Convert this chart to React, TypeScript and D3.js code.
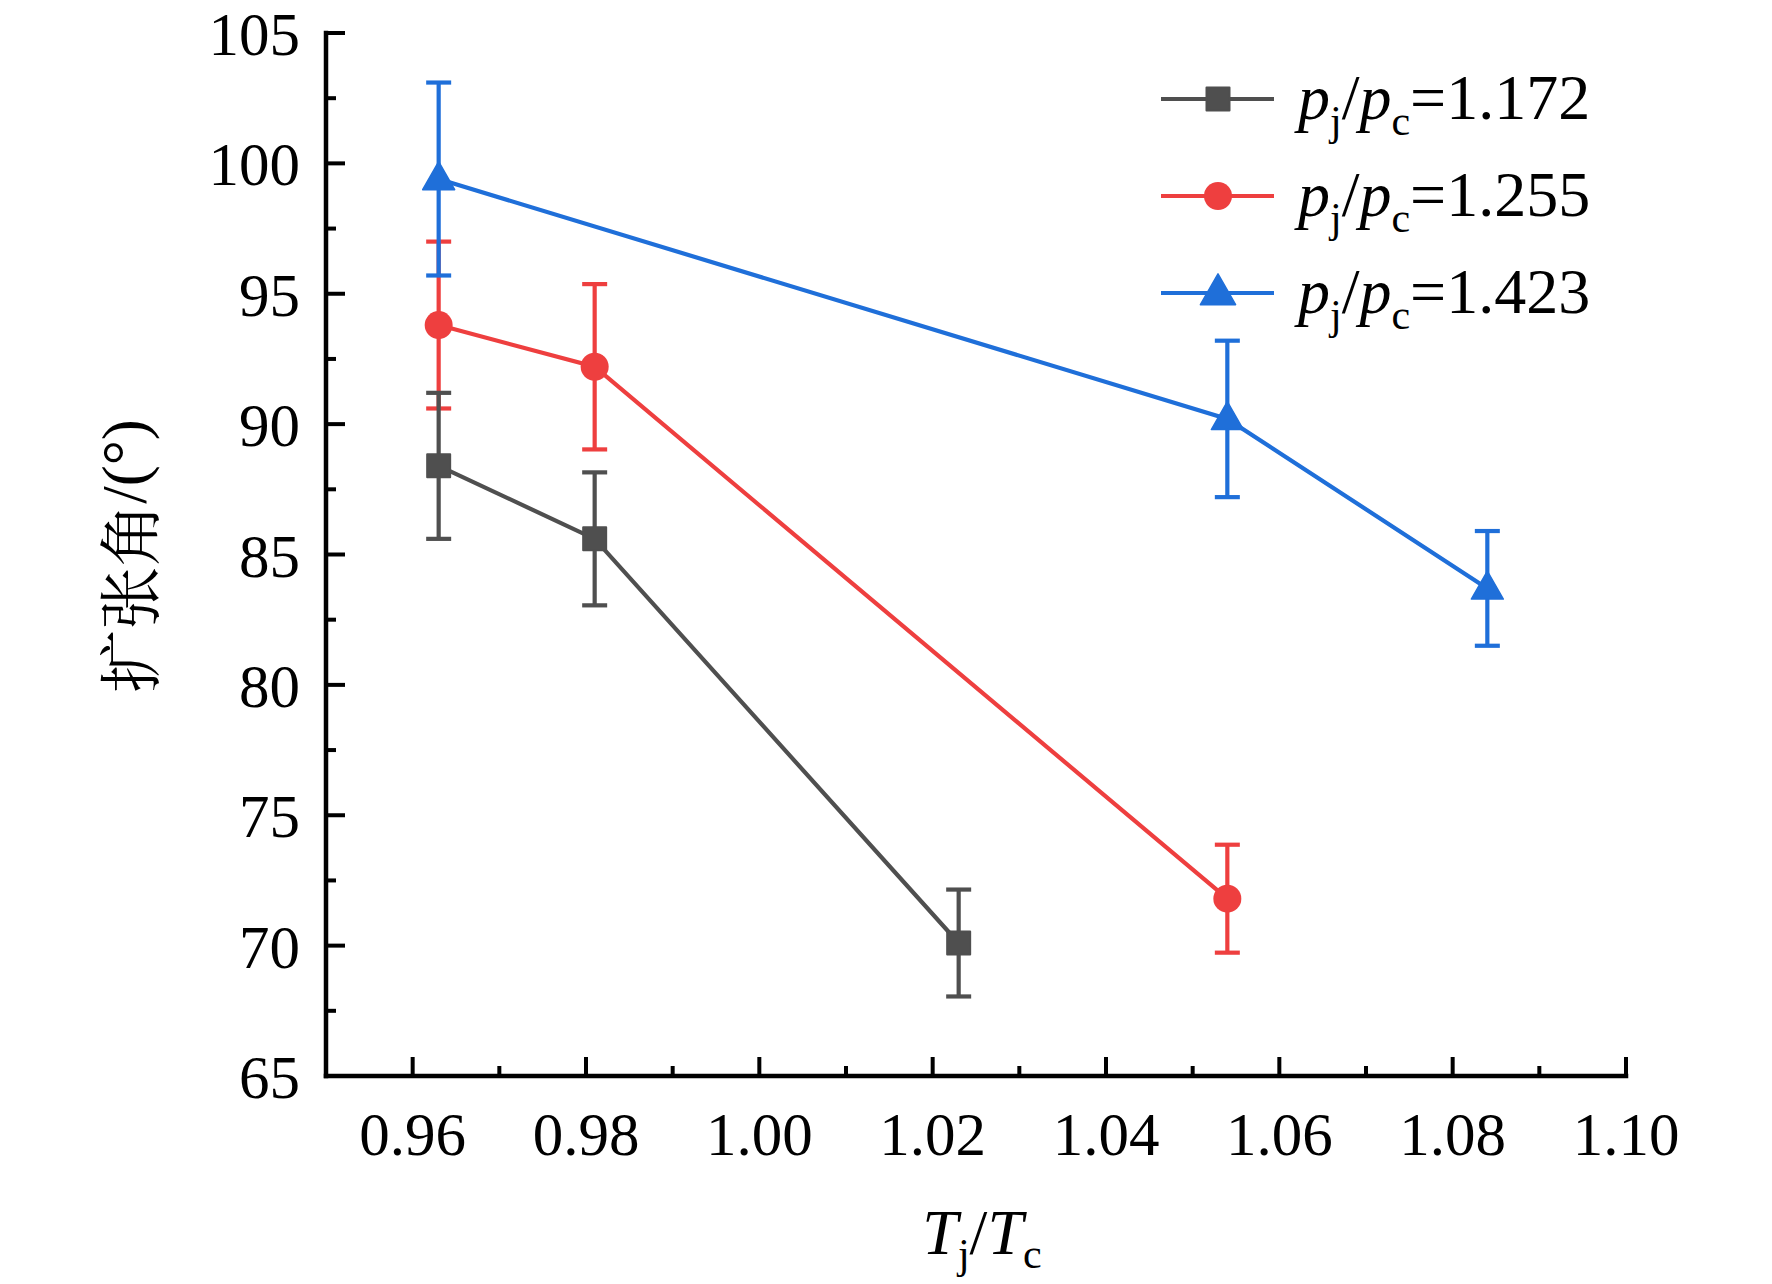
import React from "react";
import * as d3 from "d3";

const xTicks = [0.96, 0.98, 1.0, 1.02, 1.04, 1.06, 1.08, 1.1];
const xMinor = [0.97, 0.99, 1.01, 1.03, 1.05, 1.07, 1.09];
const yTicks = [65, 70, 75, 80, 85, 90, 95, 100, 105];
const yMinor = [67.5, 72.5, 77.5, 82.5, 87.5, 92.5, 97.5, 102.5];

const xBlack = [0.963, 0.981, 1.023];
const yBlack = [88.4, 85.6, 70.1];
const eBlack = [2.8, 2.55, 2.05];

const xRed = [0.963, 0.981, 1.054];
const yRed = [93.8, 92.2, 71.8];
const eRed = [3.2, 3.17, 2.07];

const xBlue = [0.963, 1.054, 1.084];
const yBlue = [99.4, 90.2, 83.7];
const eBlue = [3.7, 3.0, 2.2];

const legendValues = ["1.172", "1.255", "1.423"];

const W = 1772;
const H = 1284;
const SERIF = "'Times New Roman', 'Liberation Serif', Tinos, serif";
const CJK = "'Noto Serif CJK SC', 'Noto Sans CJK SC', sans-serif";

type Series = { xs: number[]; ys: number[]; es: number[]; color: string; shape: string };

const series: Series[] = [
  { xs: xBlack, ys: yBlack, es: eBlack, color: "#4f4f4f", shape: "square" },
  { xs: xRed, ys: yRed, es: eRed, color: "#ee3f3f", shape: "circle" },
  { xs: xBlue, ys: yBlue, es: eBlue, color: "#1f6fd9", shape: "triangle" },
];
const drawOrder = [1, 0, 2];

function Marker({ shape, cx, cy, color, scale = 1 }: { shape: string; cx: number; cy: number; color: string; scale?: number }) {
  if (shape === "square") {
    const s = 23 * scale;
    return <rect x={cx - s / 2} y={cy - s / 2} width={s} height={s} fill={color} stroke={color} strokeWidth={2} strokeLinejoin="round" />;
  }
  if (shape === "circle") {
    return <circle cx={cx} cy={cy} r={14 * scale} fill={color} />;
  }
  const w = 32 * scale;
  const h = 28 * scale;
  const p = d3.path();
  p.moveTo(cx, cy - h * 0.62);
  p.lineTo(cx + w / 2, cy + h * 0.38);
  p.lineTo(cx - w / 2, cy + h * 0.38);
  p.closePath();
  return <path d={p.toString()} fill={color} stroke={color} strokeWidth={1.5} strokeLinejoin="round" />;
}

export default function App() {
  const x = d3.scaleLinear().domain([0.95, 1.1]).range([326, 1626]);
  const y = d3.scaleLinear().domain([65, 105]).range([1076, 33]);

  const x0 = x(0.95);
  const y0 = y(65);
  const capW = 25;
  const lw = 4.2;

  return (
    <svg width={W} height={H} style={{ position: "absolute", left: 0, top: 0, background: "#fff" }}>
      <rect width={W} height={H} fill="#fff" />
      {drawOrder.map((si) => {
        const s = series[si];
        const pts: [number, number][] = s.xs.map((v, i) => [x(v), y(s.ys[i])]);
        const path = d3.line()(pts) || "";
        return (
          <g key={si}>
            {s.xs.map((v, i) => {
              const cx = x(v);
              const t = y(s.ys[i] + s.es[i]);
              const b = y(s.ys[i] - s.es[i]);
              return (
                <g key={i} stroke={s.color} strokeWidth={lw}>
                  <line x1={cx} x2={cx} y1={t} y2={b} />
                  <line x1={cx - capW / 2} x2={cx + capW / 2} y1={t} y2={t} />
                  <line x1={cx - capW / 2} x2={cx + capW / 2} y1={b} y2={b} />
                </g>
              );
            })}
            <path d={path} fill="none" stroke={s.color} strokeWidth={lw} />
            {pts.map((p, i) => (
              <Marker key={i} shape={s.shape} cx={p[0]} cy={p[1]} color={s.color} />
            ))}
          </g>
        );
      })}

      <g stroke="#000" strokeWidth={4.5} strokeLinecap="square">
        <line x1={x0} x2={x0} y1={y(105)} y2={y0} />
        <line x1={x0} x2={x(1.1)} y1={y0} y2={y0} />
      </g>
      <g stroke="#000" strokeWidth={4}>
        {yTicks.map((t) => (
          <line key={"yt" + t} x1={x0} x2={x0 + 19} y1={y(t)} y2={y(t)} />
        ))}
        {yMinor.map((t) => (
          <line key={"ym" + t} x1={x0} x2={x0 + 10} y1={y(t)} y2={y(t)} />
        ))}
        {xTicks.map((t) => (
          <line key={"xt" + t} x1={x(t)} x2={x(t)} y1={y0} y2={y0 - 19} />
        ))}
        {xMinor.map((t) => (
          <line key={"xm" + t} x1={x(t)} x2={x(t)} y1={y0} y2={y0 - 10} />
        ))}
      </g>
      <g fontFamily={SERIF} fontSize={61} fill="#000">
        {yTicks.map((t) => (
          <text key={"yl" + t} x={x0 - 26} y={y(t) + 22} textAnchor="end">
            {String(t)}
          </text>
        ))}
        {xTicks.map((t) => (
          <text key={"xl" + t} x={x(t)} y={1155} textAnchor="middle">
            {t.toFixed(2)}
          </text>
        ))}
      </g>

      <text x={982} y={1254} textAnchor="middle" fontFamily={SERIF} fontSize={64}>
        <tspan fontStyle="italic">T</tspan>
        <tspan fontSize={42} dy={14}>j</tspan>
        <tspan dy={-14}>/</tspan>
        <tspan fontStyle="italic">T</tspan>
        <tspan fontSize={42} dy={14}>c</tspan>
      </text>
      <text
        transform="translate(125,556) rotate(-90)"
        x={0}
        y={0}
        textAnchor="middle"
        dominantBaseline="central"
        fontSize={63}
      >
        <tspan fontFamily={CJK}>扩张角</tspan>
        <tspan fontFamily={SERIF}>/(°)</tspan>
      </text>

      {series.map((s, i) => {
        const ly = [99, 196, 293][i];
        return (
          <g key={"lg" + i}>
            <line x1={1161} x2={1274} y1={ly} y2={ly} stroke={s.color} strokeWidth={4.2} />
            <Marker shape={s.shape} cx={1218} cy={ly} color={s.color} scale={s.shape === "triangle" ? 1.1 : 1} />
            <text x={1298} y={ly + 20} fontFamily={SERIF} fontSize={64}>
              <tspan fontStyle="italic">p</tspan>
              <tspan fontSize={42} dy={16}>j</tspan>
              <tspan dy={-16}>/</tspan>
              <tspan fontStyle="italic">p</tspan>
              <tspan fontSize={42} dy={16}>c</tspan>
              <tspan dy={-16}>={legendValues[i]}</tspan>
            </text>
          </g>
        );
      })}
    </svg>
  );
}
